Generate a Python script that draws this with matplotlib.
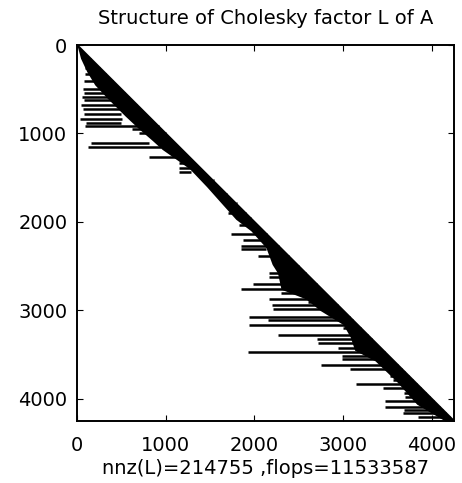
import matplotlib
matplotlib.use('Agg')
import matplotlib.pyplot as plt

# size of L (n x n)
n = 4250

# left edge of the dense band next to the diagonal: (row, first column)
band_rows = [0, 150, 300, 450, 600, 800, 950, 1080, 1180, 1300, 1400, 1600, 1780,
             1970, 2100, 2290, 2480, 2575, 2760, 2870, 3000, 3160, 3300, 3450,
             3570, 3800, 4060, 4250]
band_left = [0, 40, 110, 200, 340, 540, 700, 850, 960, 1130, 1270, 1460, 1620,
             1790, 1960, 2130, 2200, 2260, 2300, 2580, 2740, 3000, 3080, 3130,
             3360, 3600, 3830, 4150]

# rows reaching further left: row, first column, last column
spike_row = [160, 255, 330, 410, 495, 540, 590, 627, 680, 729, 785, 834, 876, 920,
             947, 1000, 1049, 1106, 1151, 1264, 1330, 1385, 1440,
             1530, 1680, 1790, 1900,
             1960, 2030, 2141, 2200, 2273, 2310, 2386, 2440, 2500, 2540, 2580,
             2620, 2706, 2756, 2800, 2868, 2900, 2940, 2981,
             3075, 3110, 3160, 3200, 3279, 3320, 3365, 3420, 3467, 3510, 3545,
             3618, 3667, 3700, 3740, 3790, 3836, 3880, 3935, 3975, 4025, 4088,
             4125, 4165, 4200]
spike_c0 = [60, 95, 90, 80, 70, 75, 60, 80, 40, 70, 80, 30, 100, 90,
            620, 700, 860, 155, 120, 815, 1150, 1150, 1150,
            1550, 1690, 1800, 1700,
            1800, 1830, 1737, 1870, 1850, 1850, 2038, 2250, 2260, 2250, 2160,
            2160, 1981, 1850, 2300, 2170, 2600, 2200, 2207,
            1944, 2150, 1944, 3000, 2264, 2700, 2716, 2940, 1925, 2990, 2990,
            2754, 3074, 3520, 3530, 3560, 3149, 3450, 3690, 3700, 3469, 3469,
            3690, 3680, 3840]
spike_c1 = [160, 255, 330, 410, 290, 540, 590, 500, 680, 620, 500, 510, 500, 920,
            820, 1000, 1049, 815, 950, 1150, 1290, 1290, 1290,
            1530, 1680, 1790, 1900,
            1960, 2030, 2141, 2200, 2273, 2130, 2386, 2440, 2500, 2540, 2580,
            2620, 2706, 2600, 2800, 2868, 2900, 2940, 2981,
            3075, 3110, 3160, 3200, 3279, 3320, 3365, 3420, 3467, 3510, 3545,
            3618, 3667, 3700, 3740, 3790, 3836, 3880, 3935, 3975, 4025, 4088,
            4125, 4165, 4200]

title = 'Structure of Cholesky factor L of A'
xlabel = 'nnz(L)=214755 ,flops=11533587'
ticks = [0, 1000, 2000, 3000, 4000]

plt.rcParams['font.family'] = ['DejaVu Sans']

fig = plt.figure(figsize=(4.62, 4.83), dpi=100)
ax = fig.add_axes([77 / 462, 62 / 483, 377 / 462, 376 / 483])

ax.fill_betweenx(band_rows, band_left, band_rows, color='black', lw=0)
ax.plot([0, n], [0, n], color='black', lw=1.5)
ax.hlines(spike_row, spike_c0, spike_c1, color='black', lw=1.8)

ax.set_xlim(0, n)
ax.set_ylim(n, 0)
ax.set_xticks(ticks)
ax.set_yticks(ticks)
ax.tick_params(direction='in', top=True, right=True, labelsize=14, pad=7, length=4)
ax.tick_params(axis='x', pad=11)
for s in ax.spines.values():
    s.set_linewidth(1.4)
ax.set_title(title, fontsize=14, pad=15)
ax.set_xlabel(xlabel, fontsize=14, labelpad=3)

fig.savefig('out.png', dpi=100)
